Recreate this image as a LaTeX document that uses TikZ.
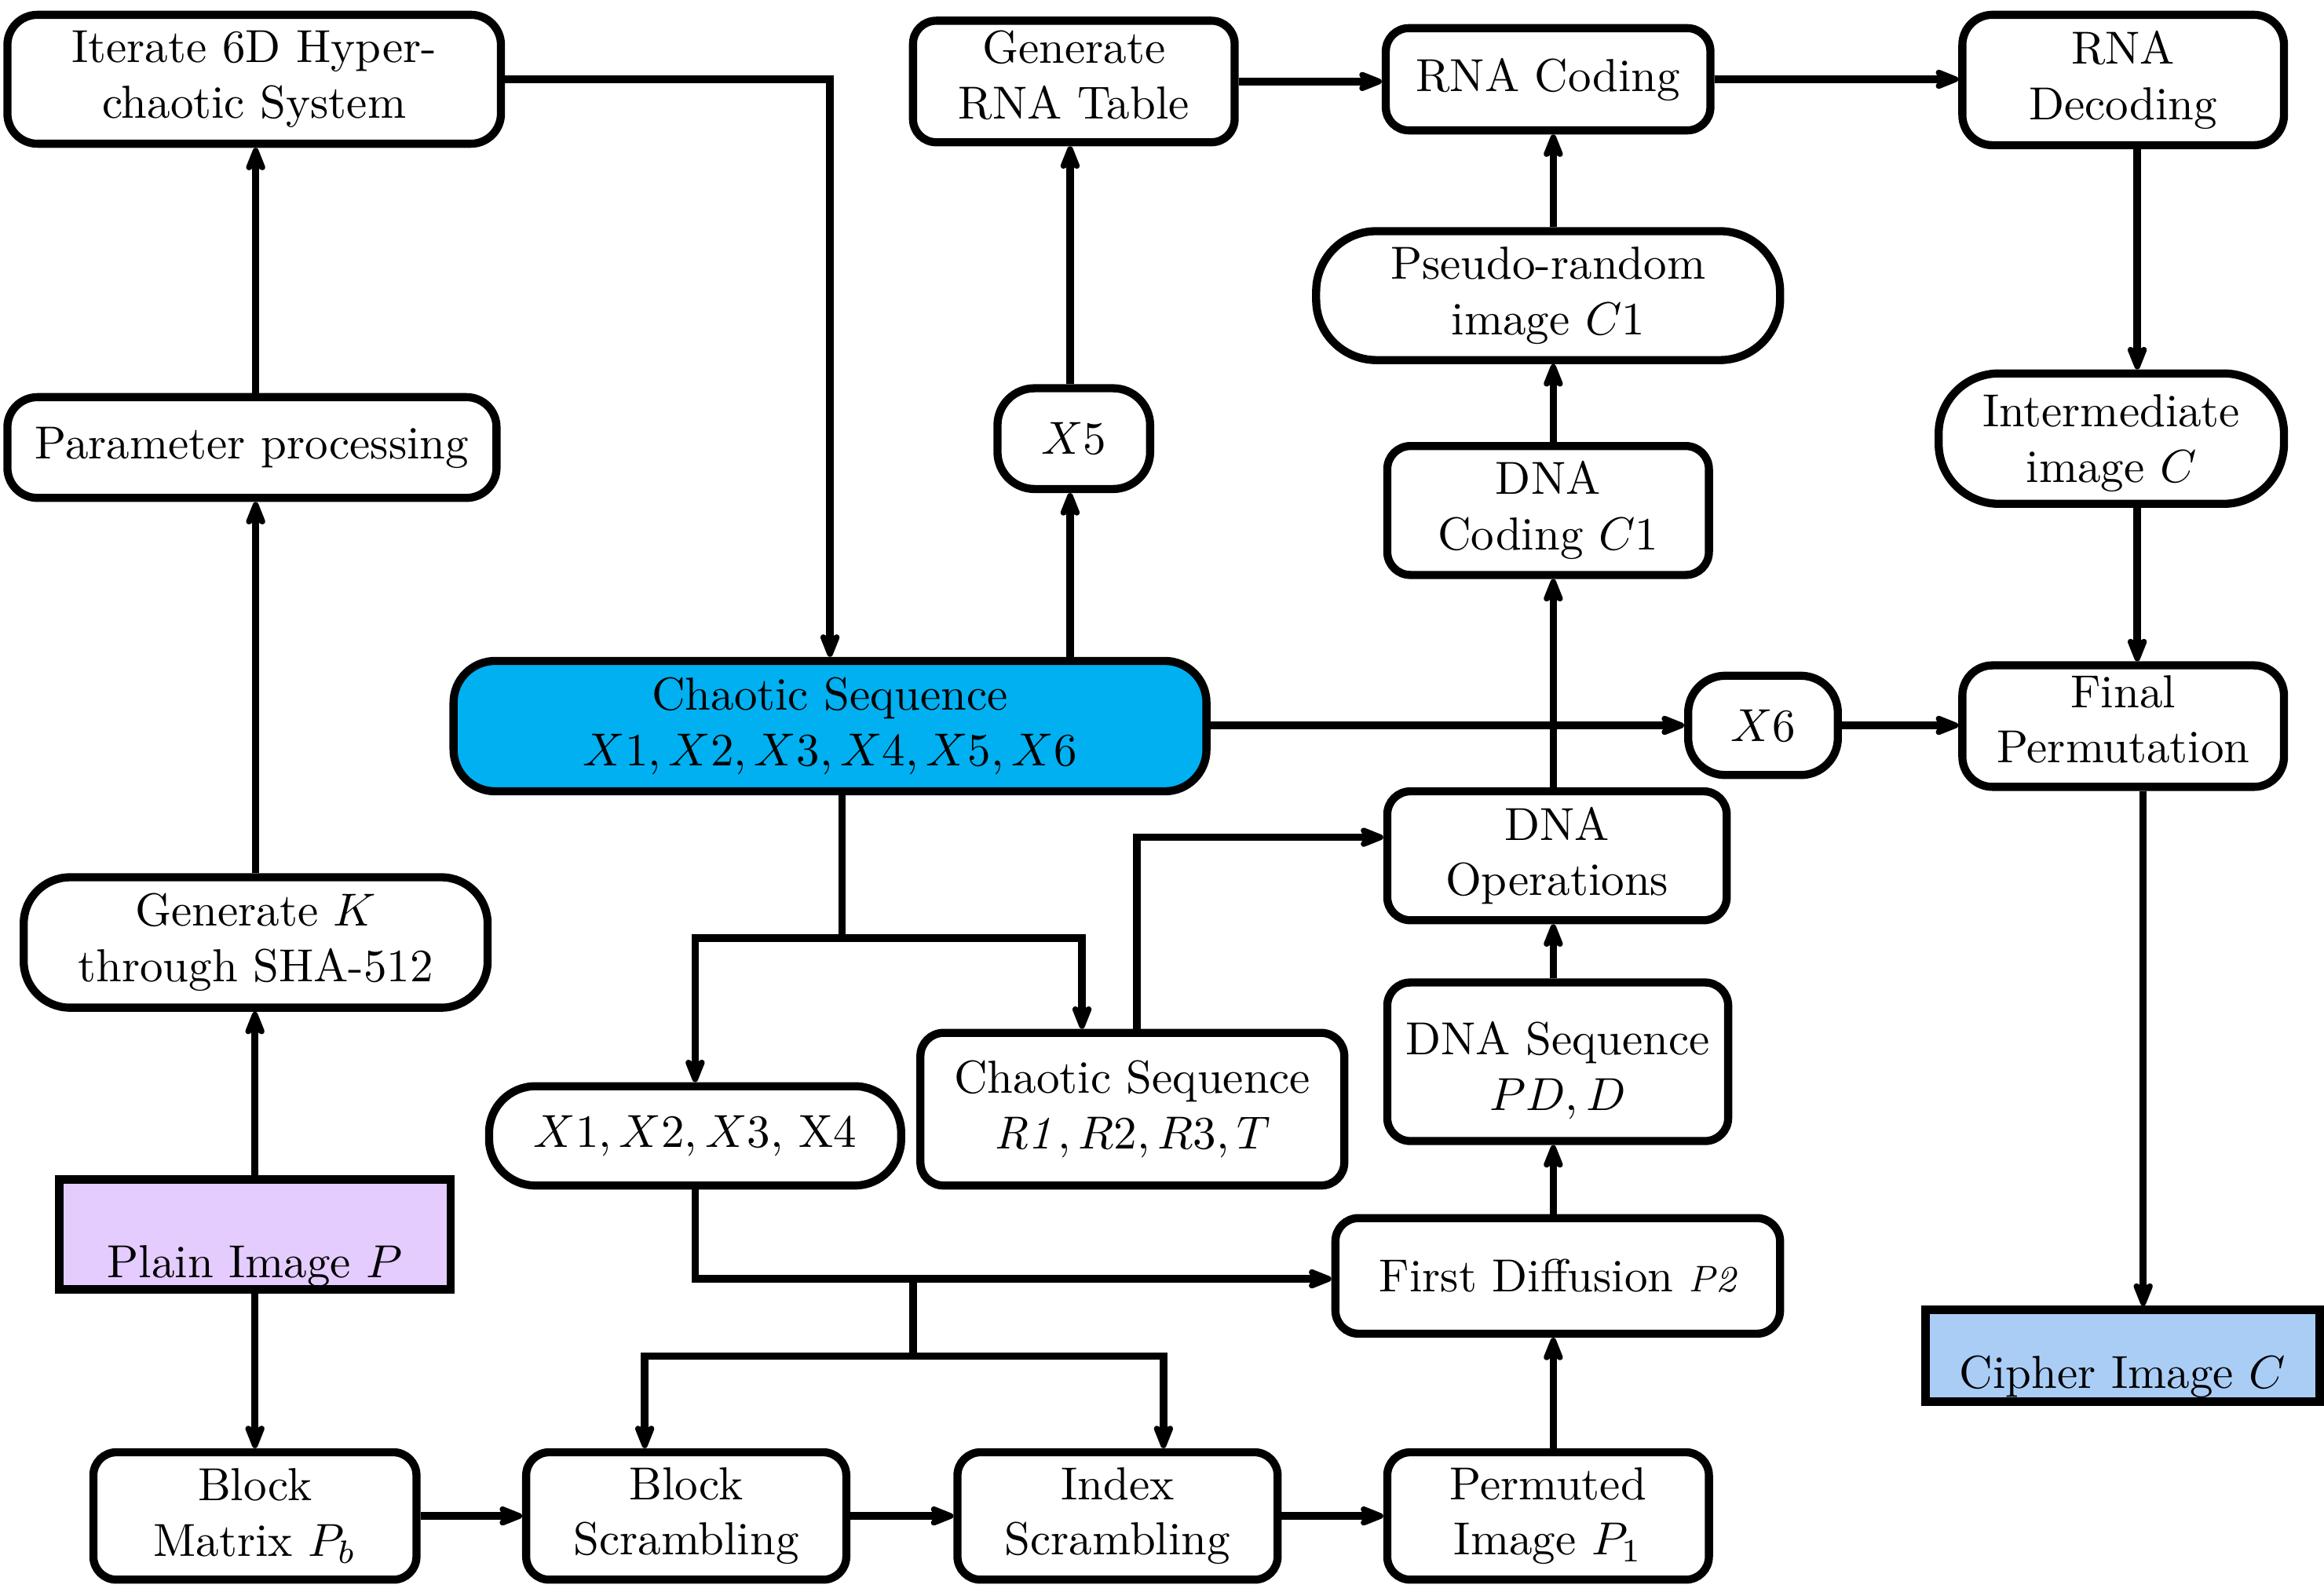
\documentclass[tikz,border=0pt]{standalone}
\usetikzlibrary{arrows.meta,calc}
\definecolor{chaosblue}{HTML}{00B0F0}
\definecolor{plainpurple}{HTML}{E5CCFF}
\definecolor{cipherblue}{HTML}{AACDF6}
\begin{document}
\begin{tikzpicture}[x=0.32pt,y=-0.32pt,
  box/.style={draw, line width=1.75pt, rounded corners=#1, align=center, inner sep=0pt, fill=white},
  box/.default=5pt,
  sz/.style 2 args={minimum width=#1*0.32pt, minimum height=#2*0.32pt},
  flat/.style={draw, line width=1.8pt, inner sep=0pt, anchor=base},
  arr/.style={line width=1.6pt, -{Stealth[length=7pt,width=5.5pt,inset=2pt,round]}},
  ln/.style={line width=1.6pt}]
\useasboundingbox (0,0) rectangle (1568,1074);

% left column
\node[box=6.5pt, sz={333}{87}] (iter) at (171.5,53.5) {Iterate 6D Hyper-\\chaotic System};
\node[box=6.5pt, sz={330}{68}] (param) at (170,302) {Parameter processing};
\node[box=10pt, sz={313}{88}] (genK) at (172.5,636) {Generate $K$\\through SHA-512};
\node[flat, fill=plainpurple, minimum width=264*0.32pt, text height=66*0.32pt, text depth=8*0.32pt] (plain) at (172,862) {Plain Image $P$};
\node[box, sz={218}{86}] (blockm) at (172,1023) {Block\\Matrix $P_b$};
\node[box, sz={216}{86}] (blocks) at (463,1023) {Block\\Scrambling};
\node[box, sz={216}{86}] (index) at (754,1023) {Index\\Scrambling};
\node[box, sz={217}{86}] (perm) at (1044.5,1023) {Permuted\\Image $P_1$};

% middle
\node[box=9pt, sz={508}{88}, fill=chaosblue] (chaos) at (560,490) {Chaotic Sequence\\$X1, X2, X3, X4, X5, X6$};
\node[box=10pt, sz={278}{67}] (x14) at (469,766.5) {$X1, X2, X3,$ X4};
\node[box, sz={286}{103}] (chaosR) at (764,748.5) {Chaotic Sequence\\$\mathit{R1}, R2, R3, T$};
\node[box=8pt, sz={103}{68}] (x5) at (724.5,296) {$X5$};
\node[box, sz={217}{82}] (genrna) at (724.5,55) {Generate\\RNA Table\rule[-3pt]{0pt}{3pt}};

% DNA column
\node[box, sz={300}{78}] (firstd) at (1051,861) {First Diffusion {\footnotesize\itshape P2}};
\node[box, sz={230}{107}] (dnaseq) at (1051,716.5) {\rule{0pt}{11pt}DNA Sequence\\$PD, D$};
\node[box, sz={229}{87}] (dnaop) at (1050.5,577.5) {DNA\\Operations};
\node[box, sz={217}{87}] (dnacod) at (1044.5,344.5) {DNA\\Coding $C1$};
\node[box=13pt, sz={313}{87}] (pseudo) at (1044.5,199.5) {Pseudo-random\\image $C1$};
\node[box, sz={219}{69}] (rnacod) at (1044.5,53.5) {RNA Coding};
\node[box=8pt, sz={101}{67}] (x6) at (1189.5,489.5) {$X6$};

% right column
\node[box=6.5pt, sz={217}{88}] (rnadec) at (1432.5,54) {RNA\\Decoding};
\node[box=13pt, sz={233}{88}] (inter) at (1424.5,296) {\rule{0pt}{9pt}Intermediate\\image $C$};
\node[box=6.5pt, sz={217}{82}] (finalp) at (1432.5,490) {Final\\Permutation\rule[-3pt]{0pt}{3pt}};
\node[flat, fill=cipherblue, minimum width=266*0.32pt, text height=53*0.32pt, text depth=9*0.32pt] (cipher) at (1432,937) {Cipher Image $C$};

% helper coordinates
\coordinate (colR) at (1442,0);
\coordinate (colC) at (1446,0);
\coordinate (colX5) at (722,0);
\coordinate (colD) at (1048,0);
\coordinate (j1) at (568,633);
\coordinate (colB) at (730,0);
\coordinate (k1) at (767,565);
\coordinate (j2) at (616,863);
\coordinate (j3) at (616,915);
\coordinate (colBS) at (435,0);
\coordinate (colIS) at (785,0);

% connectors left
\draw[arr] (iter.east) -| (chaos.north);
\draw[arr] (param.north -| genK.north) -- (genK.north |- iter.south);
\draw[arr] (genK.north) -- (genK.north |- param.south);
\draw[arr] (plain.north) -- (plain.north |- genK.south);
\draw[arr] (plain.south) -- (plain.south |- blockm.north);
\draw[arr] (blockm.east) -- (blocks.west);
\draw[arr] (blocks.east) -- (index.west);
\draw[arr] (index.east) -- (index.east -| perm.west);

% DNA column
\draw[arr] (colD |- perm.north) -- (colD |- firstd.south);
\draw[arr] (colD |- firstd.north) -- (colD |- dnaseq.south);
\draw[arr] (colD |- dnaseq.north) -- (colD |- dnaop.south);
\draw[arr] (colD |- dnaop.north) -- (colD |- dnacod.south);
\draw[arr] (colD |- dnacod.north) -- (colD |- pseudo.south);
\draw[arr] (colD |- pseudo.north) -- (colD |- rnacod.south);

% top row
\draw[arr] (genrna.east) -- (genrna.east -| rnacod.west);
\draw[arr] (rnacod.east) -- (rnacod.east -| rnadec.west);

% right column
\draw[arr] (colR |- rnadec.south) -- (colR |- inter.north);
\draw[arr] (colR |- inter.south) -- (colR |- finalp.north);
\draw[arr] (colC |- finalp.south) -- (colC |- cipher.north);

% chaos outputs
\draw[arr] (chaos.east |- x6.west) -- (x6.west);
\draw[arr] (x6.east) -- (x6.east -| finalp.west);
\draw[arr] (colX5 |- chaos.north) -- (colX5 |- x5.south);
\draw[arr] (colX5 |- x5.north) -- (colX5 |- genrna.south);

% branch below chaos
\draw[ln] (j1 |- chaos.south) -- (j1);
\draw[arr] (j1) -| (x14.north);
\draw[arr] (j1) -| (colB |- chaosR.north);
\draw[arr] (k1 |- chaosR.north) -- (k1) -- (k1 -| dnaop.west);

% to first diffusion and scrambling
\draw[arr] (x14.south) |- (j2 -| firstd.west);
\draw[ln] (j2) -- (j3);
\draw[arr] (j3) -| (colBS |- blocks.north);
\draw[arr] (j3) -| (colIS |- index.north);
\end{tikzpicture}
\end{document}
